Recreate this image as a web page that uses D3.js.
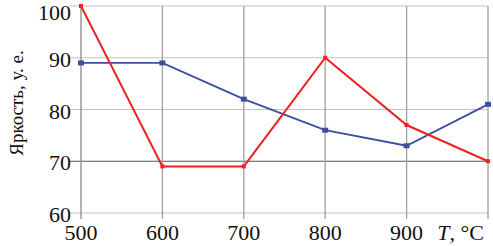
<!DOCTYPE html>
<meta charset="utf-8">
<style>
html, body { margin: 0; background: #fff; }
svg { display: block; }
svg text { font-family: "Liberation Serif", "DejaVu Serif", "Times New Roman", Times, serif; fill: #111; }
</style>
<body>
<svg class="chart" width="493" height="246"></svg>
<script src="https://d3js.org/d3.v7.min.js"></script>
<script>
"use strict";

var temps = [500, 600, 700, 800, 900, 1000];
var redValues = [100, 69, 69, 90, 77, 70];
var blueValues = [89, 89, 82, 76, 73, 81];
var yTicks = [60, 70, 80, 90, 100];
var xTicks = [500, 600, 700, 800, 900];

var svg = d3.select(".chart");
var x = d3.scaleLinear().domain([500, 1000]).range([81, 488]);
var y = d3.scaleLinear().domain([60, 100]).range([213, 6]);

// horizontal grid
svg.append("g").selectAll("line").data(yTicks).join("line")
  .attr("x1", x(500) - 11).attr("x2", x(1000))
  .attr("y1", d => y(d)).attr("y2", d => y(d))
  .attr("stroke", d => d === 70 ? "#555" : "#c2c2c2")
  .attr("stroke-width", 1.2);

// vertical grid
svg.append("g").selectAll("line").data(temps).join("line")
  .attr("x1", d => x(d)).attr("x2", d => x(d))
  .attr("y1", y(100)).attr("y2", y(60) + 6)
  .attr("stroke", d => d === 500 ? "#888" : "#a0a0a0")
  .attr("stroke-width", 1.3);

// y tick labels
svg.append("g").selectAll("text").data(yTicks).join("text")
  .attr("x", 71).attr("y", d => y(d) + (d === 100 ? 14 : 9))
  .attr("text-anchor", "end")
  .attr("font-size", 22)
  .text(d => d);

// x tick labels
svg.append("g").selectAll("text").data(xTicks).join("text")
  .attr("x", d => x(d)).attr("y", 240)
  .attr("text-anchor", "middle")
  .attr("font-size", 22)
  .text(d => d);

var xl = svg.append("text").attr("x", 484).attr("y", 240)
  .attr("text-anchor", "end").attr("font-size", 22);
xl.append("tspan").attr("font-style", "italic").text("T");
xl.append("tspan").text(", °C");

svg.append("text")
  .attr("transform", "translate(23,103) rotate(-90)")
  .attr("text-anchor", "middle")
  .attr("font-size", 19)
  .text("Яркость, у. е.");

var line = d3.line().x((d, i) => x(temps[i])).y(d => y(d));

svg.append("path").datum(blueValues)
  .attr("d", line).attr("fill", "none")
  .attr("stroke", "#3a4f9e").attr("stroke-width", 1.8);
svg.append("g").selectAll("rect").data(blueValues).join("rect")
  .attr("x", (d, i) => x(temps[i]) - 3).attr("y", d => y(d) - 2.5)
  .attr("width", 6).attr("height", 5)
  .attr("fill", "#3a4f9e");

svg.append("path").datum(redValues)
  .attr("d", line).attr("fill", "none")
  .attr("stroke", "#ee2222").attr("stroke-width", 2);
svg.append("g").selectAll("rect").data(redValues).join("rect")
  .attr("x", (d, i) => x(temps[i]) - 2).attr("y", d => y(d) - 2)
  .attr("width", 4).attr("height", 4)
  .attr("fill", "#ee2222");
</script>
</body>
